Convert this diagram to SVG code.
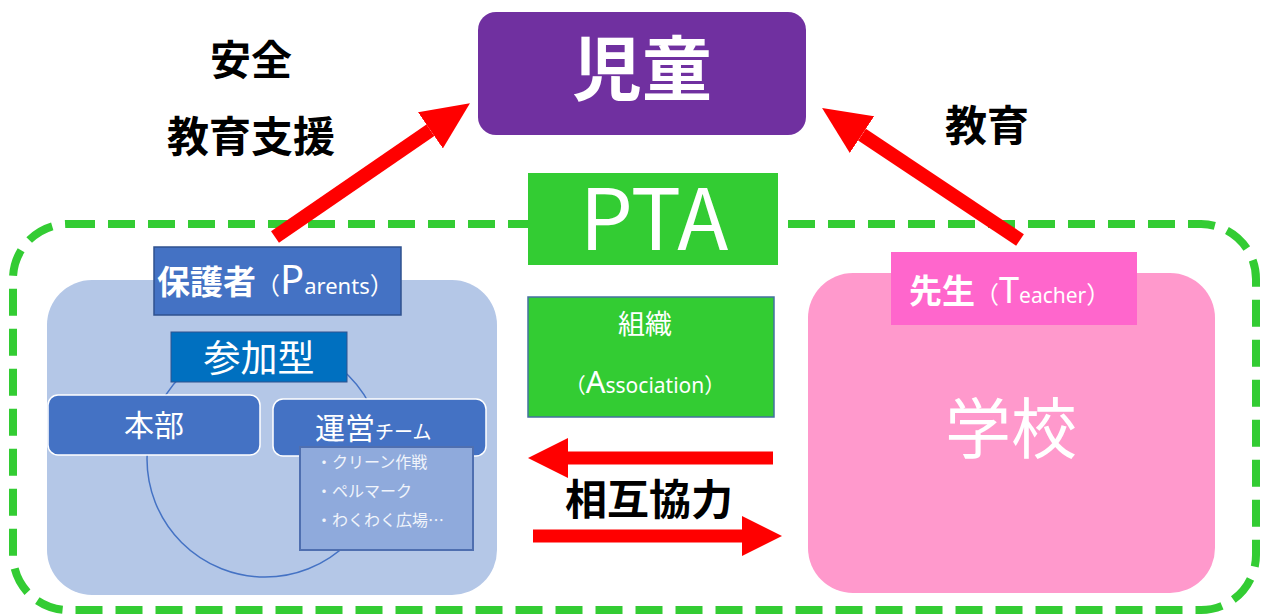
<svg xmlns="http://www.w3.org/2000/svg" width="1261" height="616" viewBox="0 0 1261 616">
  <defs>
    <style>
      text { font-family: "Noto Sans CJK JP", "Noto Sans", sans-serif; }
      .w { fill: #FFFFFF; }
      .k { fill: #000000; font-weight: bold; }
      .arrow { stroke: #FF0000; fill: none; }
    </style>
    <marker id="ahBig" markerUnits="userSpaceOnUse" markerWidth="48" markerHeight="44" viewBox="0 0 48 44" refX="0" refY="22" orient="auto">
      <path d="M0,0 L48,22 L0,44 Z" fill="#FF0000"/>
    </marker>
    <marker id="ahSmall" markerUnits="userSpaceOnUse" markerWidth="40" markerHeight="40" viewBox="0 0 40 40" refX="0" refY="20" orient="auto">
      <path d="M0,0 L40,20 L0,40 Z" fill="#FF0000"/>
    </marker>
  </defs>

  <rect width="1261" height="616" fill="#FFFFFF"/>

  <!-- PTA dashed boundary -->
  <g id="pta-boundary">
    <rect x="13" y="224" width="1243" height="386" rx="55" ry="55" fill="none" stroke="#33CC33" stroke-width="8" stroke-dasharray="27 13"/>
  </g>

  <!-- labels -->
  <g id="labels">
    <text class="k" x="251" y="75" font-size="41" text-anchor="middle">安全</text>
    <text class="k" x="251" y="152" font-size="42" text-anchor="middle">教育支援</text>
    <text class="k" x="987" y="141" font-size="42" text-anchor="middle">教育</text>
    <text class="k" x="649" y="515" font-size="42" text-anchor="middle">相互協力</text>
  </g>

  <!-- 児童 -->
  <g id="node-children">
    <rect x="478" y="12" width="328" height="123" rx="18" ry="18" fill="#7030A0"/>
    <text class="w" x="642" y="95" font-size="70" font-weight="bold" text-anchor="middle">児童</text>
  </g>

  <!-- PTA label box -->
  <g id="node-pta">
    <rect x="528" y="173" width="250" height="92" fill="#33CC33"/>
    <text class="w" x="654" y="250" font-size="84" font-family="'Noto Sans', 'Open Sans', sans-serif" text-anchor="middle">PTA</text>
  </g>

  <!-- Parents side -->
  <g id="node-parents">
    <rect x="47" y="280" width="450" height="315" rx="45" ry="45" fill="#B4C7E7"/>
    <circle cx="265" cy="459" r="118" fill="none" stroke="#4472C4" stroke-width="1.5"/>
    <rect x="154" y="247" width="247" height="68" fill="#4472C4" stroke="#2F528F" stroke-width="1.5"/>
    <text class="w" x="157" y="294"><tspan font-size="33" font-weight="bold">保護者</tspan><tspan font-size="24">（</tspan><tspan font-size="40" font-family="'Noto Sans', sans-serif">P</tspan><tspan font-size="22" font-family="'Noto Sans', sans-serif">arents</tspan><tspan font-size="24">）</tspan></text>
  </g>

  <g id="node-sanka">
    <rect x="171" y="332" width="176" height="50" fill="#0070C0" stroke="#2F528F" stroke-width="1"/>
    <text class="w" x="259" y="372" font-size="37" text-anchor="middle">参加型</text>
  </g>

  <g id="node-honbu">
    <rect x="48" y="395" width="212" height="60" rx="10" ry="10" fill="#4472C4" stroke="#FFFFFF" stroke-width="1.5"/>
    <text class="w" x="154" y="436" font-size="30" text-anchor="middle">本部</text>
  </g>

  <g id="node-unei">
    <rect x="273" y="399" width="213" height="57" rx="10" ry="10" fill="#4472C4" stroke="#FFFFFF" stroke-width="1.5"/>
    <text class="w" x="315" y="439"><tspan font-size="30">運営</tspan><tspan font-size="19">チーム</tspan></text>
  </g>

  <g id="node-activities">
    <rect x="300" y="447" width="173" height="103" fill="#8FAADC" stroke="#4F6FB0" stroke-width="2"/>
    <text x="316" y="468" font-size="16" fill="#F0F4FB">・クリーン作戦</text>
    <text x="316" y="497" font-size="16" fill="#F0F4FB">・ペルマーク</text>
    <text x="316" y="526" font-size="16" fill="#F0F4FB">・わくわく広場…</text>
  </g>

  <!-- Association -->
  <g id="node-association">
    <rect x="528" y="297" width="246" height="120" fill="#33CC33" stroke="#4472A0" stroke-width="1.5"/>
    <text class="w" x="645" y="334" font-size="27" text-anchor="middle">組織</text>
    <text class="w" x="645" y="393" text-anchor="middle"><tspan font-size="21">（</tspan><tspan font-size="31" font-family="'Noto Sans', sans-serif">A</tspan><tspan font-size="21" font-family="'Noto Sans', sans-serif">ssociation</tspan><tspan font-size="21">）</tspan></text>
  </g>

  <!-- Teacher / school -->
  <g id="node-school">
    <rect x="808" y="273" width="407" height="320" rx="45" ry="45" fill="#FF99CC"/>
    <rect x="891" y="252" width="246" height="73" fill="#FF66CC"/>
    <text class="w" x="909" y="303"><tspan font-size="33" font-weight="bold">先生</tspan><tspan font-size="24">（</tspan><tspan font-size="36" font-family="'Noto Sans', sans-serif">T</tspan><tspan font-size="21" font-family="'Noto Sans', sans-serif">eacher</tspan><tspan font-size="24">）</tspan></text>
    <text class="w" x="1011" y="453" font-size="66" text-anchor="middle">学校</text>
  </g>

  <!-- connectors -->
  <g id="connectors">
    <line class="arrow" x1="275" y1="237" x2="430.4" y2="130.3" stroke-width="14" marker-end="url(#ahBig)"/>
    <line class="arrow" x1="1020" y1="240" x2="862" y2="134.6" stroke-width="14" marker-end="url(#ahBig)"/>
    <line class="arrow" x1="773" y1="458" x2="568" y2="458" stroke-width="13" marker-end="url(#ahSmall)"/>
    <line class="arrow" x1="533" y1="536" x2="742" y2="536" stroke-width="13" marker-end="url(#ahSmall)"/>
  </g>
</svg>
